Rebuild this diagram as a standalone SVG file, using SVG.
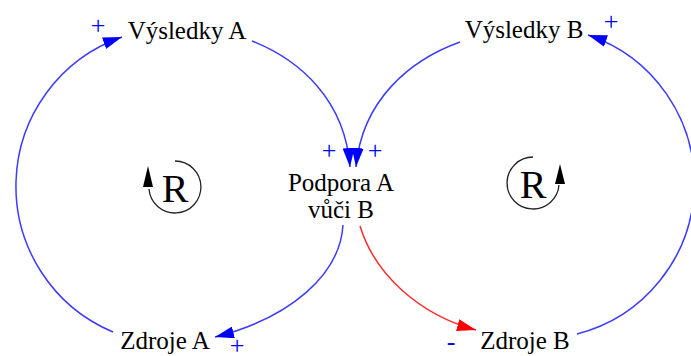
<svg xmlns="http://www.w3.org/2000/svg" width="691" height="356" viewBox="0 0 691 356">
<style>
text{font-family:"Liberation Serif","DejaVu Serif","Times New Roman",serif}
.lbl{font-size:25px;fill:#000;text-anchor:middle}
.pol{font-size:26px;fill:#0000ff;text-anchor:middle}
.big{font-size:40px;fill:#000;text-anchor:middle}
.b{fill:none;stroke:#3c3cff;stroke-width:1.5;marker-end:url(#ab)}
.r{fill:none;stroke:#ff2a2a;stroke-width:1.5;marker-end:url(#ar)}
.loop{fill:none;stroke:#222;stroke-width:1.3}
</style>
<defs>
<marker id="ab" markerUnits="userSpaceOnUse" viewBox="0 0 19 12" refX="19" refY="6" markerWidth="19" markerHeight="12" orient="auto"><path d="M0,0 L19,6 L0,12 z" fill="#0000ff"/></marker>
<marker id="ar" markerUnits="userSpaceOnUse" viewBox="0 0 19 12" refX="19" refY="6" markerWidth="19" markerHeight="12" orient="auto"><path d="M0,0 L19,6 L0,12 z" fill="#ff0000"/></marker>
</defs>
<g id="connectors">
<path class="b" d="M113,332 A158,158 0 0 1 122,37"/>
<path class="b" d="M252,41 C300,60 345,100 350,167"/>
<path class="b" d="M460,42 C410,60 362,100 356,167"/>
<path class="b" d="M343,225 C340,275 290,318 215,337"/>
<path class="b" d="M577,334 A156,156 0 0 0 588,35"/>
<path class="r" d="M360,226 C375,275 420,315 476,330"/>
</g>
<g id="polarities">
<text class="pol" x="98" y="34">+</text>
<text class="pol" x="611" y="30">+</text>
<text class="pol" x="329" y="159">+</text>
<text class="pol" x="375" y="159">+</text>
<text class="pol" x="237" y="354">+</text>
<text class="pol" x="451" y="350">-</text>
</g>
<g id="vysledkyA"><text class="lbl" x="187" y="39">Výsledky A</text></g>
<g id="vysledkyB"><text class="lbl" x="524" y="38">Výsledky B</text></g>
<g id="podpora"><text class="lbl" x="341" y="191">Podpora A</text><text class="lbl" x="341" y="218">vůči B</text></g>
<g id="zdrojeA"><text class="lbl" x="165" y="349">Zdroje A</text></g>
<g id="zdrojeB"><text class="lbl" x="525" y="349">Zdroje B</text></g>
<g id="loopA">
<path class="loop" d="M175,161 A26,26 0 1 1 149,189"/>
<path d="M148,166 L153,187 L143,187 z" fill="#000"/>
<text class="big" x="175" y="202">R</text>
</g>
<g id="loopB">
<path class="loop" d="M533,157 A26,26 0 1 0 559,185"/>
<path d="M560,164 L565,184 L555,184 z" fill="#000"/>
<text class="big" x="533" y="198">R</text>
</g>
</svg>
